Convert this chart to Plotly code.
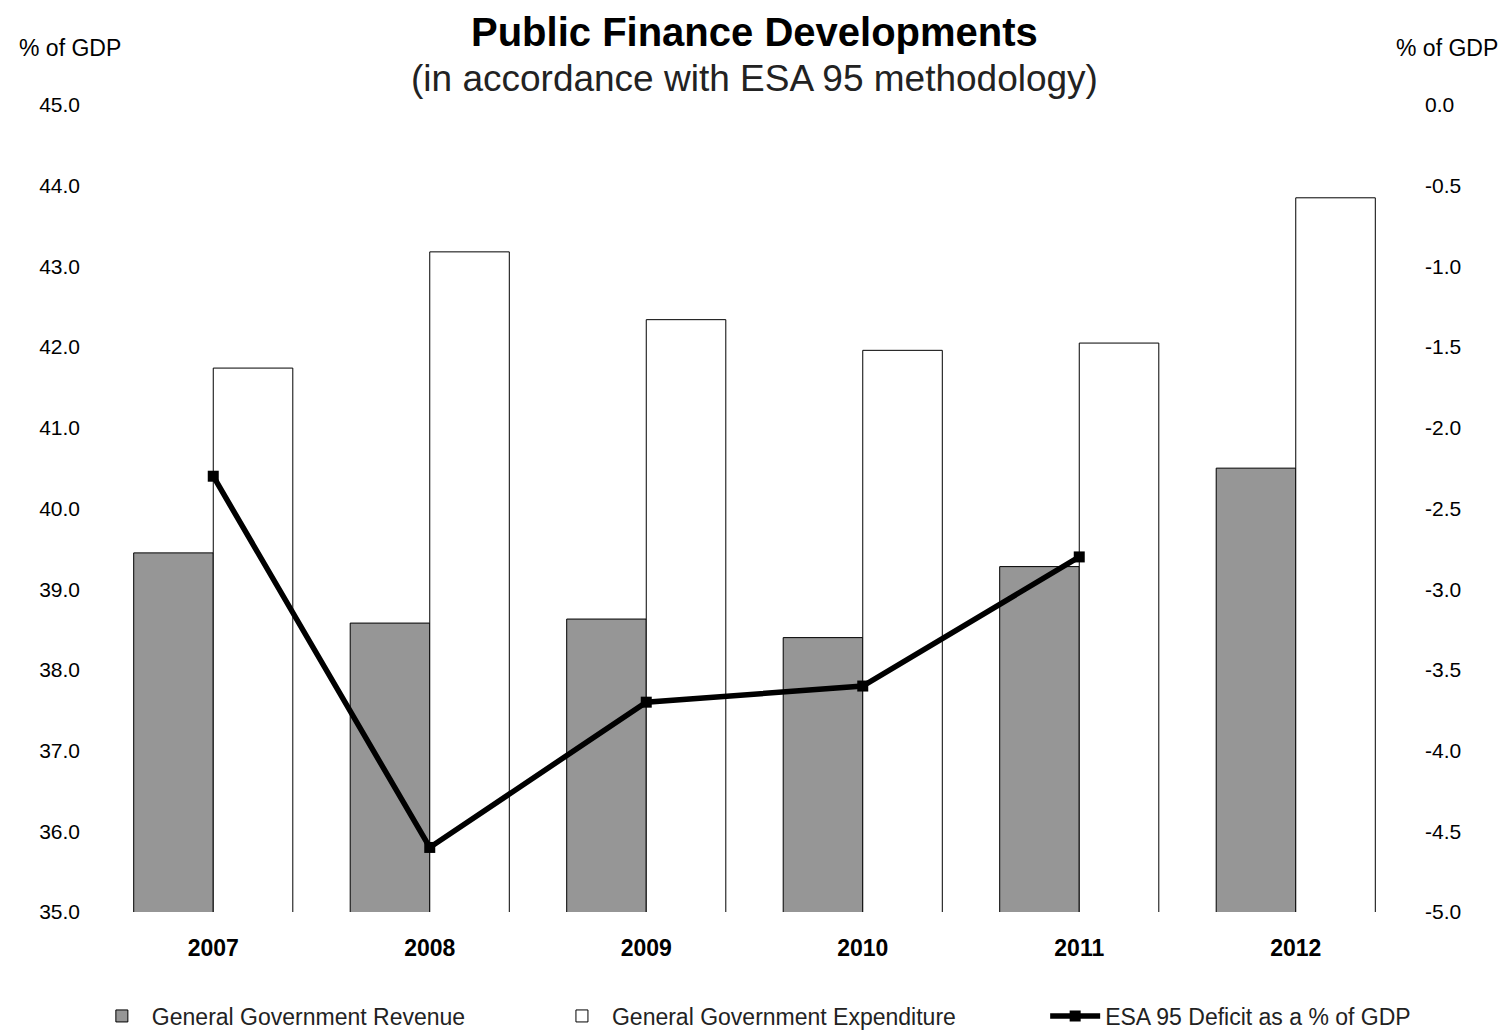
import plotly.graph_objects as go

years = ["2007", "2008", "2009", "2010", "2011", "2012"]
revenue = [39.45, 38.58, 38.63, 38.40, 39.28, 40.50]
expenditure = [41.74, 43.18, 42.34, 41.96, 42.05, 43.85]
deficit_years = ["2007", "2008", "2009", "2010", "2011"]
deficit = [-2.3, -4.6, -3.7, -3.6, -2.8]

left_ticks = [35 + i for i in range(11)]
right_ticks = [-5 + 0.5 * i for i in range(11)]

FONT = "Liberation Sans, Arial, sans-serif"

fig = go.Figure()
fig.add_trace(go.Bar(
    x=years, y=revenue, name="General Government Revenue", legend="legend",
    marker=dict(color="#969696", line=dict(color="#000000", width=1)),
))
fig.add_trace(go.Bar(
    x=years, y=expenditure, name="General Government Expenditure", legend="legend2",
    marker=dict(color="#ffffff", line=dict(color="#000000", width=1)),
))
fig.add_trace(go.Scatter(
    x=deficit_years, y=deficit, name="ESA 95 Deficit as a % of GDP", legend="legend3",
    yaxis="y2", mode="lines+markers",
    line=dict(color="#000000", width=5.5),
    marker=dict(symbol="square", size=11, color="#000000"),
))

def leg(x):
    return dict(
        orientation="h", xref="container", yref="container",
        x=x, xanchor="left", y=0.0136, yanchor="middle",
        font=dict(size=23, color="#222222"),
        itemwidth=50, bgcolor="rgba(0,0,0,0)",
    )

fig.update_layout(
    width=1506, height=1030,
    margin=dict(l=105, r=102, t=105, b=118, autoexpand=False),
    paper_bgcolor="white", plot_bgcolor="white",
    font=dict(family=FONT, color="#000000", size=20),
    barmode="group", bargap=0.265, bargroupgap=0,
    showlegend=True,
    legend=leg(0.061),
    legend2=leg(0.3665),
    legend3=leg(0.694),
    xaxis=dict(
        type="category", showgrid=False, showline=False, zeroline=False,
        tickfont=dict(size=23, color="#000000", family=FONT, weight="bold"),
        ticks="", ticklabelstandoff=20, automargin=False,
    ),
    yaxis=dict(
        range=[35, 45], tickvals=left_ticks,
        ticktext=[f"{v:.1f}" for v in left_ticks],
        showgrid=False, showline=False, zeroline=False,
        ticks="", ticklabelstandoff=24, automargin=False,
        tickfont=dict(size=21, color="#000000"),
    ),
    yaxis2=dict(
        range=[-5, 0], tickvals=right_ticks,
        ticktext=[f"{v:.1f}" for v in right_ticks],
        overlaying="y", side="right",
        showgrid=False, showline=False, zeroline=False,
        ticks="", ticklabelstandoff=20, automargin=False,
        tickfont=dict(size=21, color="#000000"),
    ),
    annotations=[
        dict(text="<b>Public Finance Developments</b>", xref="paper", yref="paper",
             x=0.5, y=1.0, yshift=73, xanchor="center", yanchor="middle",
             showarrow=False, font=dict(size=40, color="#000000")),
        dict(text="(in accordance with ESA 95 methodology)", xref="paper", yref="paper",
             x=0.5, y=1.0, yshift=27, xanchor="center", yanchor="middle",
             showarrow=False, font=dict(size=37, color="#222222")),
        dict(text="% of GDP", xref="paper", yref="paper",
             x=0, y=1.0, xshift=-35, yshift=57, xanchor="center", yanchor="middle",
             showarrow=False, font=dict(size=23, color="#000000")),
        dict(text="% of GDP", xref="paper", yref="paper",
             x=1, y=1.0, xshift=43, yshift=57, xanchor="center", yanchor="middle",
             showarrow=False, font=dict(size=23, color="#000000")),
    ],
)

fig.write_html("out.html")
